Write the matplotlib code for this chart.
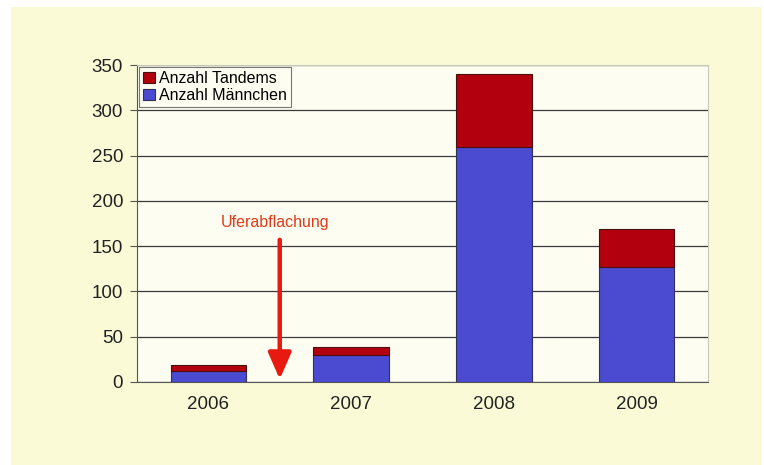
import numpy as np
import matplotlib.pyplot as plt
from matplotlib.patches import Rectangle

plt.rcParams["font.family"] = ["Liberation Sans", "DejaVu Sans"]

# data
years = ["2006", "2007", "2008", "2009"]
maennchen = [12, 30, 260, 127]
tandems = [7, 9, 80, 42]

c_red = "#b3000f"
c_blue = "#4b4bd2"

fig = plt.figure(figsize=(7.64, 4.65), dpi=100)
fig.patch.set_facecolor("white")
# yellowish panel behind the chart
fig.patches.append(Rectangle((0.014, 0.0), 0.983, 0.985, transform=fig.transFigure,
                             facecolor="#fafbd6", edgecolor="none", zorder=-10))

ax = fig.add_axes([0.1793, 0.1785, 0.7474, 0.6817])
ax.set_zorder(1)
ax.set_facecolor("#fdfdf1")

x = np.arange(len(years))
ax.bar(x, maennchen, width=0.53, color=c_blue, edgecolor="#30305a", linewidth=0.8,
       label="Anzahl Männchen", zorder=3)
ax.bar(x, tandems, bottom=maennchen, width=0.53, color=c_red, edgecolor="#4a1010",
       linewidth=0.8, label="Anzahl Tandems", zorder=3)

ax.set_xlim(-0.5, 3.5)
ax.set_ylim(0, 350)
ax.set_yticks(range(0, 351, 50))
ax.set_xticks(x)
ax.set_xticklabels(years)
ax.yaxis.grid(True, color="#3a3a3a", linewidth=0.9, zorder=1)
ax.set_axisbelow(True)
for s in ["top", "right"]:
    ax.spines[s].set_color("#c8c8b8")
    ax.spines[s].set_linewidth(0.8)
ax.spines["left"].set_color("#555555")
ax.spines["bottom"].set_color("#555555")
ax.tick_params(axis="y", length=5, color="#555555", labelsize=13.5, labelcolor="#222222", pad=5)
ax.tick_params(axis="x", length=0, labelsize=13.5, labelcolor="#222222", pad=10)

h, l = ax.get_legend_handles_labels()
leg = ax.legend(h[::-1], l[::-1], loc="upper left", bbox_to_anchor=(0.0, 1.0),
                fontsize=11.5, frameon=True, fancybox=False, edgecolor="#555555",
                handlelength=0.7, handleheight=0.7, handletextpad=0.3,
                borderpad=0.25, labelspacing=0.1, borderaxespad=0.15)
leg.get_frame().set_facecolor("#fdfdf1")
leg.get_frame().set_linewidth(0.8)

# arrow marking the bank flattening
ax.annotate("", xy=(0.5, 0), xytext=(0.5, 160),
            arrowprops=dict(arrowstyle="-|>,head_width=0.7,head_length=1.6",
                        color="#e8190f", lw=3.2), zorder=5)
ax.text(0.47, 176, "Uferabflachung", color="#e03a1a", fontsize=11.5, ha="center", va="center",
        zorder=5)

fig.savefig("out.png", dpi=100)
